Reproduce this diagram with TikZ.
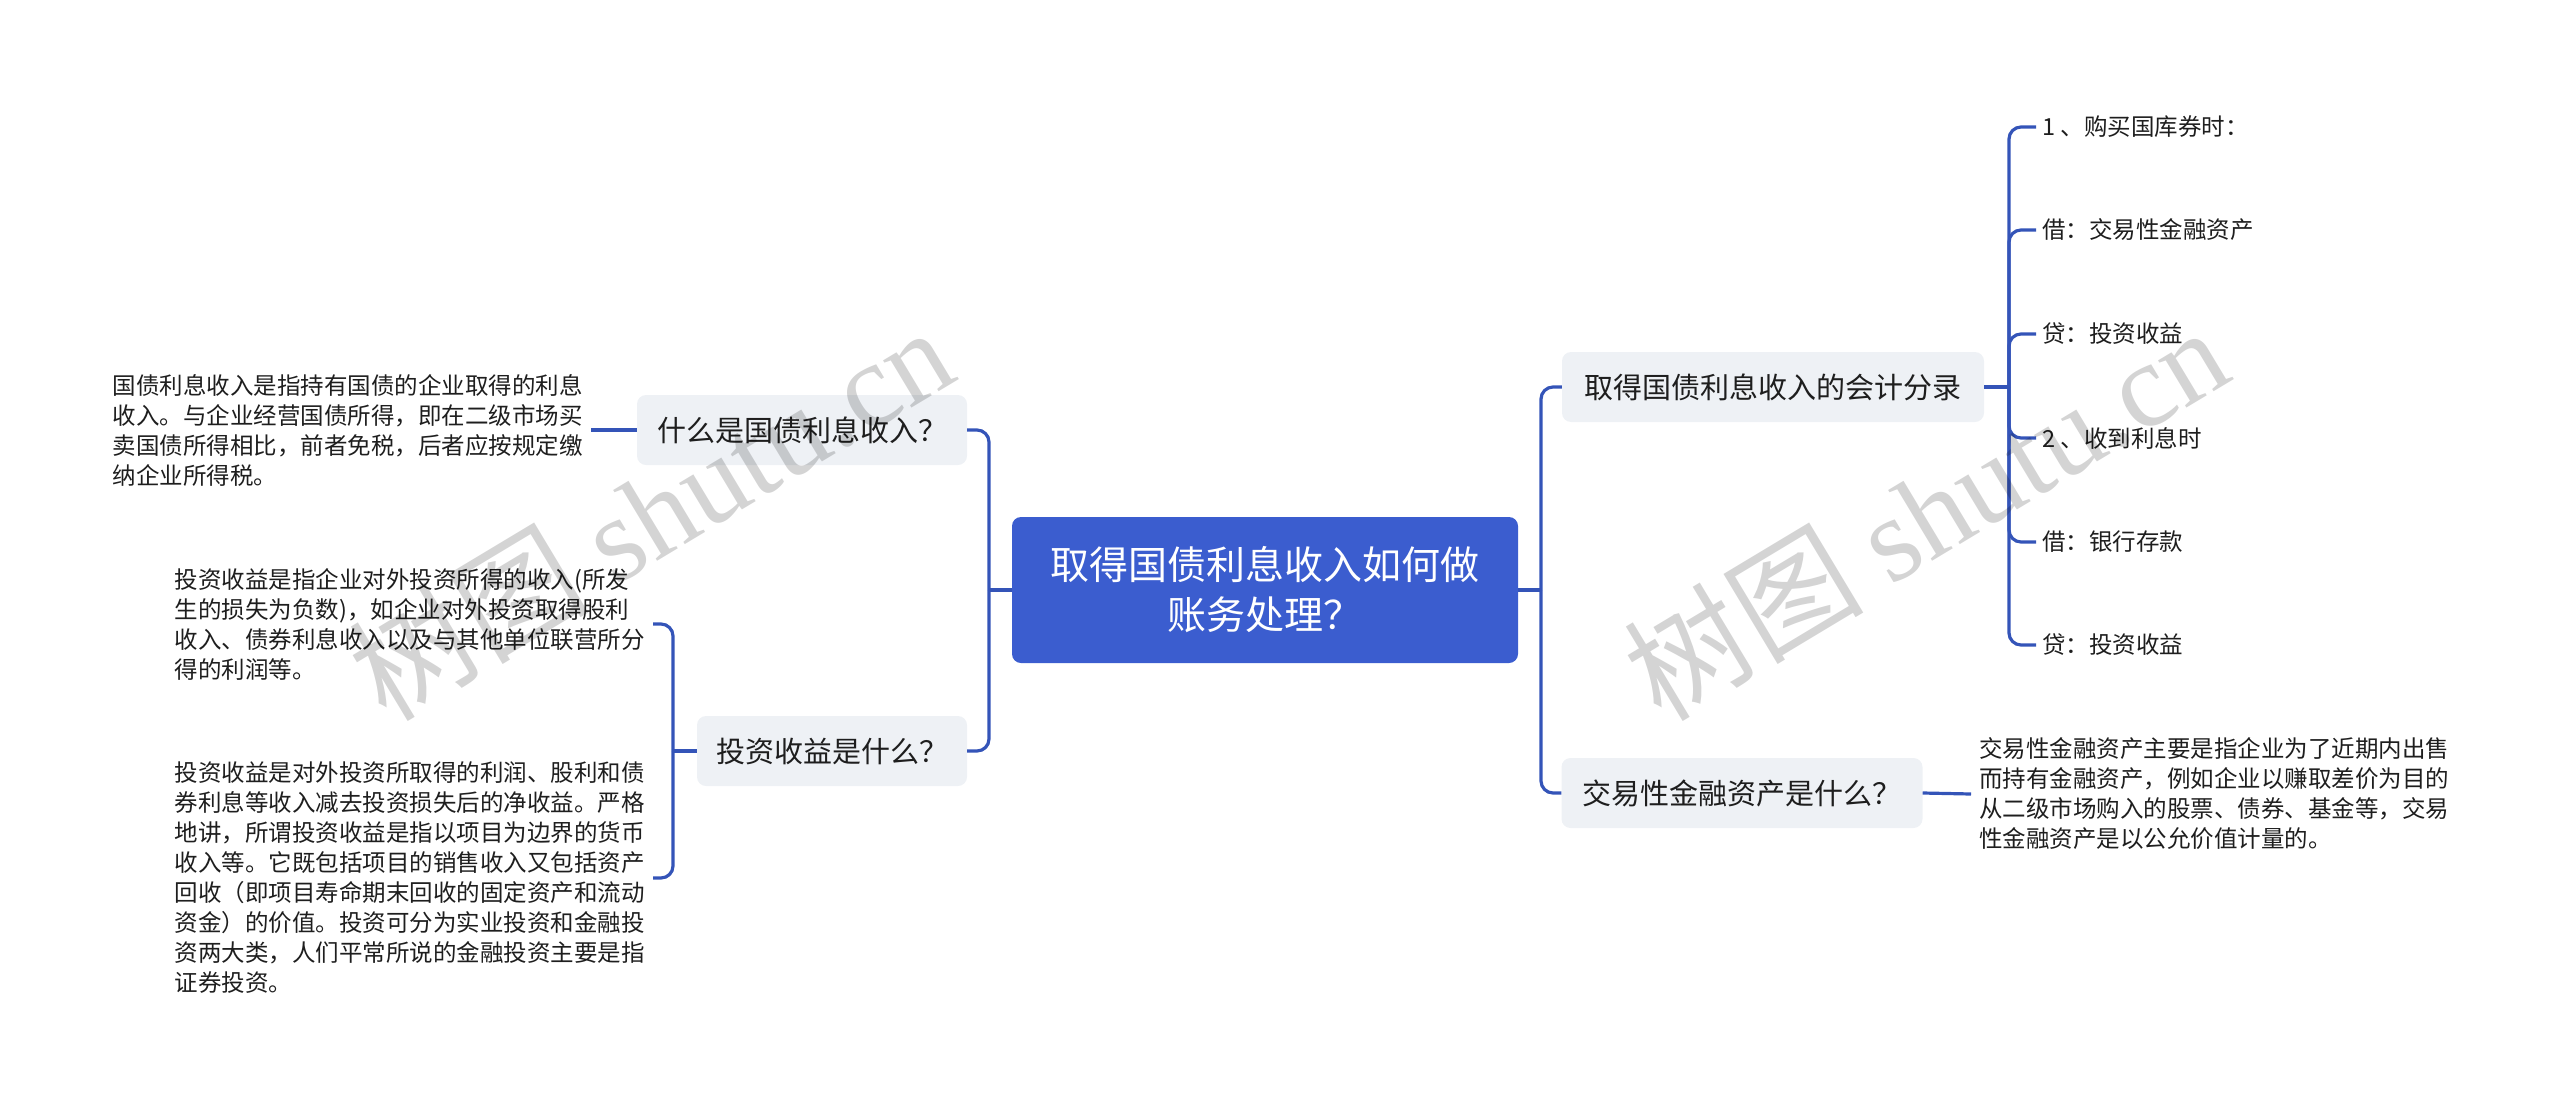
\documentclass[tikz,border=0pt]{standalone}
\usepackage{fontspec}
\setmainfont{Noto Sans CJK SC}
\newfontfamily\wmserif{Liberation Serif}
\definecolor{linec}{RGB}{52,84,184}
\definecolor{mainc}{RGB}{59,93,207}
\definecolor{boxc}{RGB}{238,241,245}
\definecolor{txtc}{RGB}{30,30,30}
\begin{document}
\begin{tikzpicture}[x=1pt,y=-1pt,
  conn/.style={draw=linec,line width=3.2pt,rounded corners=12pt},
  mainbox/.style={fill=mainc,rounded corners=9pt,text=white,align=center,
    font=\fontsize{39}{50}\selectfont,minimum width=506pt,minimum height=146pt,inner sep=0pt},
  subbox/.style={fill=boxc,rounded corners=9pt,text=txtc,
    font=\fontsize{29}{36}\selectfont,minimum height=70pt,inner sep=0pt},
  desc/.style={text=txtc,align=left,font=\fontsize{23.5}{30}\selectfont,inner sep=8pt},
  leaf/.style={text=txtc,font=\fontsize{23.5}{30}\selectfont,inner sep=6pt,anchor=west},
  wm/.style={text=black,opacity=0.17,font=\fontsize{120}{120}\selectfont}
]
\useasboundingbox (0,0) rectangle (2560,1111);

% central node
\node[mainbox] (c) at (1265,590) {取得国债利息收入如何做\\账务处理？};

% left subtopics
\node[subbox,minimum width=330pt] (l1) at (802,430) {什么是国债利息收入？};
\node[subbox,minimum width=270pt] (l2) at (832,751) {投资收益是什么？};

% right subtopics
\node[subbox,minimum width=422pt] (r1) at (1773,387) {取得国债利息收入的会计分录};
\node[subbox,minimum width=361pt] (r2) at (1742,793) {交易性金融资产是什么？};

% descriptions
\node[desc,anchor=east] (t1) at (591,430) {国债利息收入是指持有国债的企业取得的利息\\收入。与企业经营国债所得，即在二级市场买\\卖国债所得相比，前者免税，后者应按规定缴\\纳企业所得税。};
\node[desc,anchor=east] (t2) at (653,624) {投资收益是指企业对外投资所得的收入(所发\\生的损失为负数)，如企业对外投资取得股利\\收入、债券利息收入以及与其他单位联营所分\\得的利润等。};
\node[desc,anchor=east] (t3) at (653,878) {投资收益是对外投资所取得的利润、股利和债\\券利息等收入减去投资损失后的净收益。严格\\地讲，所谓投资收益是指以项目为边界的货币\\收入等。它既包括项目的销售收入又包括资产\\回收（即项目寿命期末回收的固定资产和流动\\资金）的价值。投资可分为实业投资和金融投\\资两大类，人们平常所说的金融投资主要是指\\证券投资。};
\node[desc,anchor=west] (t4) at (1971,794) {交易性金融资产主要是指企业为了近期内出售\\而持有金融资产，例如企业以赚取差价为目的\\从二级市场购入的股票、债券、基金等，交易\\性金融资产是以公允价值计量的。};

% leaves
\node[leaf] (e1) at (2036,127) {1 、购买国库券时：};
\node[leaf] (e2) at (2036,230) {借：交易性金融资产};
\node[leaf] (e3) at (2036,334) {贷：投资收益};
\node[leaf] (e4) at (2036,438) {2 、收到利息时};
\node[leaf] (e5) at (2036,542) {借：银行存款};
\node[leaf] (e6) at (2036,645) {贷：投资收益};

% junction coordinates
\coordinate (cl) at (989,590);
\coordinate (cr) at (1541,590);
\coordinate (lb) at (673,751);
\coordinate (rb) at (2009,387);

% connectors
\draw[conn] (c.west) -- (cl);
\draw[conn] (cl) |- (l1.east);
\draw[conn] (cl) |- (l2.east);
\draw[conn] (c.east) -- (cr);
\draw[conn] (cr) |- (r1.west);
\draw[conn] (cr) |- (r2.west);
\draw[conn] (l1.west) -- (t1.east);
\draw[conn] (l2.west) -- (lb);
\draw[conn] (lb) |- (t2.east);
\draw[conn] (lb) |- (t3.east);
\draw[conn] (r2.east) -- (t4.west);
\draw[conn] (r1.east) -- (rb);
\foreach \e in {e1,e2,e3,e4,e5,e6}{\draw[conn] (rb) |- (\e.west);}

% watermarks
\node[wm,rotate=31] (wm1) at (650,512) {树图 {\wmserif shutu.cn}};
\node[wm,rotate=31] (wm2) at (1925,512) {树图 {\wmserif shutu.cn}};
\end{tikzpicture}
\end{document}
